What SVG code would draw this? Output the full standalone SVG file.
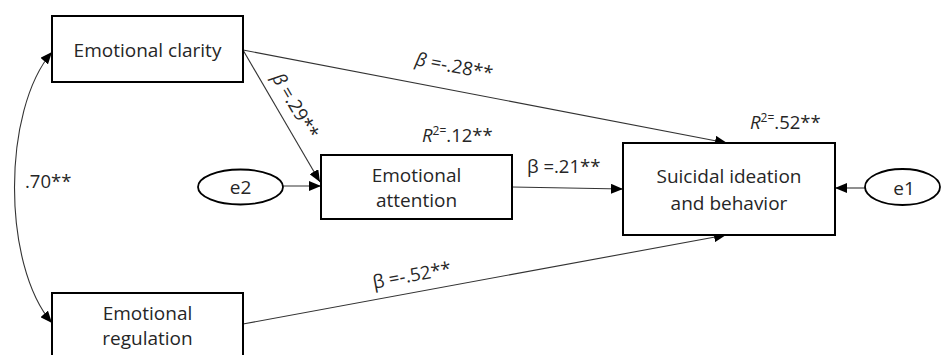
<svg xmlns="http://www.w3.org/2000/svg" width="941" height="355" viewBox="0 0 941 355">
<style>
.box{fill:#fff;stroke:#000;stroke-width:2}
.ell{fill:#fff;stroke:#000;stroke-width:1.8}
.lbl{font-family:"Open Sans","Liberation Sans",sans-serif;font-size:19px;fill:#262626;text-anchor:middle}
.coef{font-family:"Open Sans","Liberation Sans",sans-serif;font-size:18.5px;fill:#262626}
.conn{fill:none;stroke:#333;stroke-width:1.1}
.it{font-style:italic}
.sup{font-size:12px}
</style>
<defs>
<marker id="ah" markerUnits="userSpaceOnUse" markerWidth="12" markerHeight="10" refX="12" refY="5" orient="auto-start-reverse" viewBox="0 0 12 10">
<path d="M0,0 L12,5 L0,10 z" fill="#000"/>
</marker>
</defs>
<rect width="941" height="355" fill="#fff"/>
<g id="connectors">
<path class="conn" d="M52,52 C2,110 2,265 52,323" marker-start="url(#ah)" marker-end="url(#ah)"/>
<line class="conn" x1="243" y1="50" x2="727" y2="143" marker-end="url(#ah)"/>
<line class="conn" x1="243" y1="50" x2="320" y2="182" marker-end="url(#ah)"/>
<line class="conn" x1="283" y1="186" x2="321" y2="186" marker-end="url(#ah)"/>
<line class="conn" x1="512" y1="187" x2="623" y2="189" marker-end="url(#ah)"/>
<line class="conn" x1="865" y1="188" x2="835" y2="188" marker-end="url(#ah)"/>
<line class="conn" x1="243" y1="324" x2="726" y2="235" marker-end="url(#ah)"/>
</g>
<g id="clarity">
<rect class="box" x="52" y="16" width="191" height="66"/>
<text class="lbl" x="147.5" y="57">Emotional clarity</text>
</g>
<g id="attention">
<rect class="box" x="321" y="155" width="191" height="64"/>
<text class="lbl" x="416.5" y="182">Emotional</text>
<text class="lbl" x="416.5" y="207">attention</text>
</g>
<g id="suicidal">
<rect class="box" x="623" y="143" width="212" height="92"/>
<text class="lbl" x="729" y="183">Suicidal ideation</text>
<text class="lbl" x="729" y="210">and behavior</text>
</g>
<g id="regulation">
<rect class="box" x="52" y="293" width="191" height="80"/>
<text class="lbl" x="147.5" y="320">Emotional</text>
<text class="lbl" x="147.5" y="345">regulation</text>
</g>
<g id="e2">
<ellipse class="ell" cx="240.5" cy="187" rx="42.5" ry="17.5"/>
<text class="lbl" x="240.5" y="194">e2</text>
</g>
<g id="e1">
<ellipse class="ell" cx="902.5" cy="187" rx="37.5" ry="18"/>
<text class="lbl" x="904" y="195">e1</text>
</g>
<g id="labels">
<text class="coef" x="25" y="188">.70**</text>
<text class="coef" text-anchor="middle" transform="translate(453,72.5) rotate(10.9)"><tspan class="it">β</tspan> =-.28**</text>
<text class="coef" text-anchor="middle" transform="translate(290,109) rotate(59.5)"><tspan class="it">β</tspan> =.29**</text>
<text class="coef" x="422" y="142"><tspan class="it">R</tspan><tspan class="sup" dy="-7">2=</tspan><tspan dy="7">.12**</tspan></text>
<text class="coef" x="750" y="129"><tspan class="it">R</tspan><tspan class="sup" dy="-7">2=</tspan><tspan dy="7">.52**</tspan></text>
<text class="coef" x="527" y="173">β =.21**</text>
<text class="coef" text-anchor="middle" transform="translate(413,281.5) rotate(-10.5)">β =-.52**</text>
</g>
</svg>
